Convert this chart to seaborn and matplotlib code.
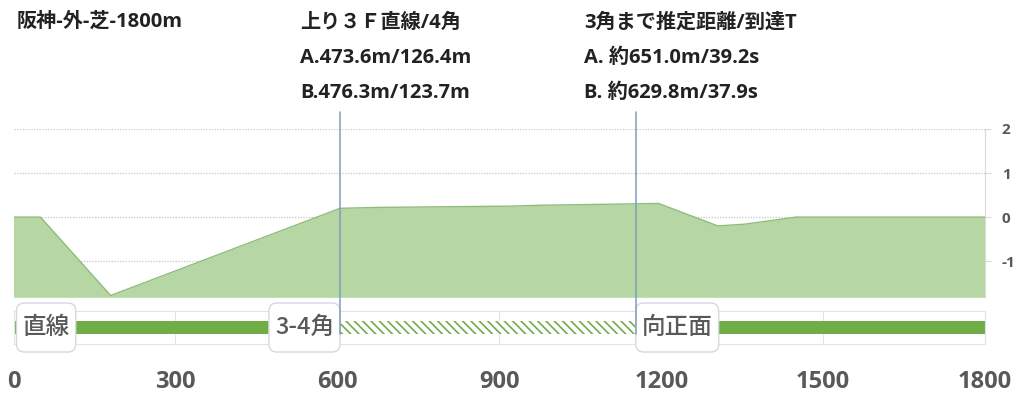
import matplotlib
matplotlib.use("Agg")
import matplotlib.pyplot as plt
import matplotlib.transforms as mtransforms
from matplotlib.lines import Line2D
from matplotlib.patches import FancyBboxPatch
import seaborn as sns
import pandas as pd

# course profile (distance m / relative elevation m)
dist = [0, 50, 180, 605, 675, 925, 980, 1090, 1195, 1305, 1355, 1450, 1800]
elev = [0, 0, -1.78, 0.20, 0.22, 0.25, 0.27, 0.29, 0.31, -0.20, -0.16, 0, 0]

# course sections for the bottom strip
sec_start = [0, 605, 1153]
sec_end = [605, 1153, 1800]
sec_hatched = [False, True, False]
sec_labels = ["直線", "3-4角", "向正面"]

# markers (4th corner / 3rd corner)
marker_x = [605, 1153]

title = "阪神-外-芝-1800m"
info_left = ["上り３Ｆ直線/4角", "A.473.6m/126.4m", "B.476.3m/123.7m"]
info_right = ["3角まで推定距離/到達T", "A. 約651.0m/39.2s", "B. 約629.8m/37.9s"]

x_ticks = [0, 300, 600, 900, 1200, 1500, 1800]
y_ticks = [-1, 0, 1, 2]

sns.set_style("white")
plt.rcParams['font.family'] = ['Open Sans', 'Noto Sans CJK JP', 'DejaVu Sans']
plt.rcParams['axes.unicode_minus'] = False
plt.rcParams['hatch.linewidth'] = 1.2

GREEN = "#70ad47"
FILL = "#b6d7a3"
GRAY_TXT = "#595959"
GRID = "#d9d9d9"

W, H = 1024, 401
fig = plt.figure(figsize=(W / 100, H / 100), dpi=100)
ax = fig.add_axes([13.5 / W, 1 - 297.3 / H, (985 - 13.5) / W, (297.3 - 129) / H])
ax2 = fig.add_axes([13.5 / W, 1 - 344 / H, (985 - 13.5) / W, (344 - 310.7) / H])

# elevation profile
df = pd.DataFrame({"dist": dist, "elev": elev})
ax.fill_between(df["dist"], df["elev"], -1.82, color=FILL, lw=0, zorder=2)
sns.lineplot(data=df, x="dist", y="elev", ax=ax, color="#8fbb7c", lw=1, zorder=3)
ax.set_xlim(0, 1800)
ax.set_ylim(-1.82, 2)
ax.set_yticks(y_ticks)
ax.set_xticks([])
ax.yaxis.tick_right()
ax.tick_params(axis="y", length=4, color=GRID, pad=8, labelsize=11, labelcolor=GRAY_TXT)
for lab in ax.get_yticklabels():
    lab.set_fontweight("bold")
ax.grid(axis="y", color="#cfcfcf", ls=(0, (1, 1)), lw=1)
ax.set_xlabel("")
ax.set_ylabel("")
for s in ["top", "left", "bottom"]:
    ax.spines[s].set_visible(False)
ax.spines["right"].set_color(GRID)

# section strip
for s, e, h in zip(sec_start, sec_end, sec_hatched):
    if h:
        ax2.barh(0, e - s, left=s, height=0.76, color="white", edgecolor=GREEN,
                 hatch="\\\\\\\\", lw=0, zorder=2)
    else:
        ax2.barh(0, e - s, left=s, height=0.76, color=GREEN, lw=0, zorder=2)
ax2.set_xlim(0, 1800)
ax2.set_ylim(-1, 1)
ax2.set_yticks([])
ax2.set_xticks(x_ticks)
ax2.grid(axis="x", color="#e3e3e3", lw=0.8, zorder=0)
ax2.set_axisbelow(True)
for s in ax2.spines.values():
    s.set_color("#e3e3e3")
    s.set_linewidth(0.8)
ax2.tick_params(axis="x", length=0, pad=19, labelsize=17, labelcolor=GRAY_TXT)
for lab in ax2.get_xticklabels():
    lab.set_fontweight("bold")

# vertical marker lines
trans = mtransforms.blended_transform_factory(ax.transData, fig.transFigure)
for mx in marker_x:
    fig.add_artist(Line2D([mx, mx], [1 - 112 / H, 1 - 334 / H], transform=trans,
                          color="#7f9cc0", lw=1.1, zorder=5))

# section labels (text first, rounded boxes sized from the text afterwards)
offsets = [9, -6, 6]
aligns = ["left", "right", "left"]
label_texts = []
for s, lab, off, ha in zip(sec_start, sec_labels, offsets, aligns):
    t = ax2.annotate(lab, xy=(s, 0), xytext=(off, 0), textcoords="offset pixels",
                     ha=ha, va="center", fontsize=17, color=GRAY_TXT,
                     family=['Noto Sans CJK JP', 'DejaVu Sans'], fontweight="medium",
                     zorder=11, annotation_clip=False)
    label_texts.append(t)

fig.canvas.draw()
renderer = fig.canvas.get_renderer()
yc = H - 327.5
for t in label_texts:
    bb = t.get_window_extent(renderer)
    patch = FancyBboxPatch((bb.x0 - 6, yc - 24.5), bb.width + 12, 49,
                           boxstyle="round,pad=0,rounding_size=8",
                           fc="white", ec="#d5d8e0", lw=1,
                           transform=mtransforms.IdentityTransform(),
                           clip_on=False, zorder=10)
    ax2.add_artist(patch)

# header texts
fig.text(17 / W, 1 - 22 / H, title, fontsize=14.5, fontweight="bold", color="#222222",
         va="center", ha="left")
for i, (l, r) in enumerate(zip(info_left, info_right)):
    y = 1 - (23 + 35 * i) / H
    fig.text(300 / W, y, l, fontsize=14.5, fontweight="bold", color="#222222", va="center")
    fig.text(584 / W, y, r, fontsize=14.5, fontweight="bold", color="#222222", va="center")

fig.savefig("out.png", dpi=100)
